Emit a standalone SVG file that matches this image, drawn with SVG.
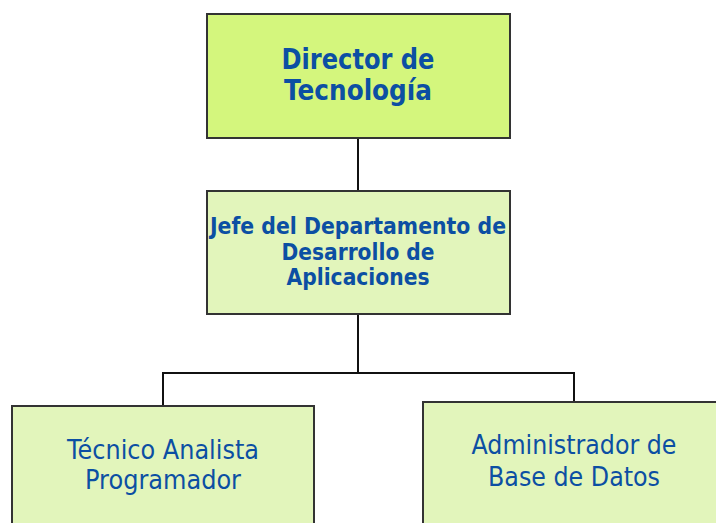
<svg xmlns="http://www.w3.org/2000/svg" width="716" height="523" viewBox="0 0 716 523">
<style>
.box{stroke:#333;stroke-width:2}
.top{fill:#d4f67d}
.sub{fill:#e2f5bb}
.t{font-family:"DejaVu Sans","Liberation Sans",sans-serif;fill:#0c4fa3;text-anchor:middle}
.b{font-weight:bold}
.conn{stroke:#111;stroke-width:2;fill:none}
</style>
<rect width="716" height="523" fill="#fff"/>
<g id="connectors">
<line class="conn" x1="358" y1="138" x2="358" y2="191"/>
<line class="conn" x1="358" y1="314" x2="358" y2="373"/>
<polyline class="conn" points="163,406 163,373 574,373 574,402"/>
</g>
<g id="director">
<rect class="box top" x="207" y="14" width="303" height="124"/>
<text class="t b" x="358" y="69" font-size="28" textLength="153" lengthAdjust="spacingAndGlyphs">Director de</text>
<text class="t b" x="358" y="100" font-size="28" textLength="148" lengthAdjust="spacingAndGlyphs">Tecnología</text>
</g>
<g id="jefe">
<rect class="box sub" x="207" y="191" width="303" height="123"/>
<text class="t b" x="358" y="234" font-size="23" textLength="296" lengthAdjust="spacingAndGlyphs">Jefe del Departamento de</text>
<text class="t b" x="358" y="260" font-size="23" textLength="153" lengthAdjust="spacingAndGlyphs">Desarrollo de</text>
<text class="t b" x="358" y="285" font-size="23" textLength="143" lengthAdjust="spacingAndGlyphs">Aplicaciones</text>
</g>
<g id="tecnico">
<rect class="box sub" x="12" y="406" width="302" height="130"/>
<text class="t" x="163" y="459" font-size="26" textLength="192" lengthAdjust="spacingAndGlyphs">Técnico Analista</text>
<text class="t" x="163" y="489" font-size="26" textLength="156" lengthAdjust="spacingAndGlyphs">Programador</text>
</g>
<g id="administrador">
<rect class="box sub" x="423" y="402" width="300" height="134"/>
<text class="t" x="574" y="454" font-size="26" textLength="205" lengthAdjust="spacingAndGlyphs">Administrador de</text>
<text class="t" x="574" y="486" font-size="26" textLength="172" lengthAdjust="spacingAndGlyphs">Base de Datos</text>
</g>
</svg>
